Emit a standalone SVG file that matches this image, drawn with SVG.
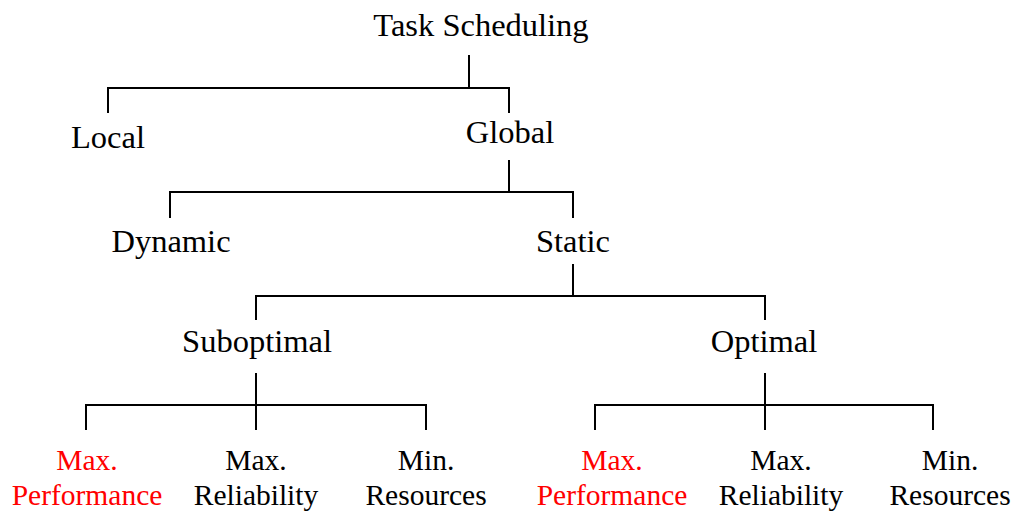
<svg xmlns="http://www.w3.org/2000/svg" width="1017" height="514" viewBox="0 0 1017 514">
  <style>
    .lbl { font-family: "Liberation Serif", "Times New Roman", serif; font-size: 32.5px; fill: #000; text-anchor: middle; }
    .leaf { font-family: "Liberation Serif", "Times New Roman", serif; font-size: 29.5px; fill: #000; text-anchor: middle; }
    .hl { fill: #ff0000; }
    .edge { fill: none; stroke: #000; stroke-width: 2; stroke-linecap: butt; stroke-linejoin: miter; }
  </style>
  <rect width="1017" height="514" fill="#fff"/>

  <!-- tree connectors -->
  <g id="connectors" class="edge">
    <path d="M469 55 V88 M108 113 V88 H509 V113"/>
    <path d="M509 160 V192 M170 218 V192 H573 V218"/>
    <path d="M573 264 V296 M256 320 V296 H765 V320"/>
    <path d="M256 373 V430 M86 430 V405 H426 V430"/>
    <path d="M765 373 V430 M595 430 V405 H933 V430"/>
  </g>

  <g id="task-scheduling"><text class="lbl" x="481" y="36">Task Scheduling</text></g>
  <g id="local"><text class="lbl" x="108" y="148">Local</text></g>
  <g id="global"><text class="lbl" x="510" y="143">Global</text></g>
  <g id="dynamic"><text class="lbl" x="171" y="252">Dynamic</text></g>
  <g id="static"><text class="lbl" x="573" y="252">Static</text></g>
  <g id="suboptimal"><text class="lbl" x="257" y="352">Suboptimal</text></g>
  <g id="optimal"><text class="lbl" x="764" y="352">Optimal</text></g>

  <g id="sub-max-performance"><text class="leaf hl" x="87" y="470">Max.</text><text class="leaf hl" x="87" y="505">Performance</text></g>
  <g id="sub-max-reliability"><text class="leaf" x="256" y="470">Max.</text><text class="leaf" x="256" y="505">Reliability</text></g>
  <g id="sub-min-resources"><text class="leaf" x="426" y="470">Min.</text><text class="leaf" x="426" y="505">Resources</text></g>

  <g id="opt-max-performance"><text class="leaf hl" x="612" y="470">Max.</text><text class="leaf hl" x="612" y="505">Performance</text></g>
  <g id="opt-max-reliability"><text class="leaf" x="781" y="470">Max.</text><text class="leaf" x="781" y="505">Reliability</text></g>
  <g id="opt-min-resources"><text class="leaf" x="950" y="470">Min.</text><text class="leaf" x="950" y="505">Resources</text></g>
</svg>
